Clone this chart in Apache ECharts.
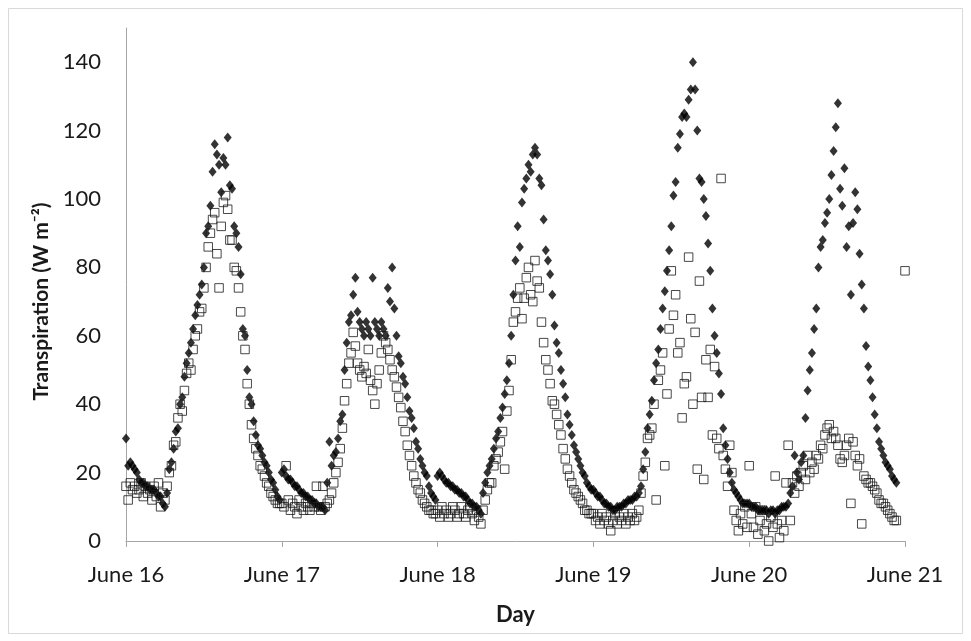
<!DOCTYPE html>
<html>
<head>
<meta charset="utf-8">
<script src="https://cdn.jsdelivr.net/npm/echarts@6/dist/echarts.min.js"></script>
<style>
html,body{margin:0;padding:0;background:#fff;}
#chart{width:971px;height:641px;}
</style>
</head>
<body>
<div id="chart"></div>
<script>
// Day start values (June) and readings every 20 minutes (72 per day)
const dayStarts = [16, 17, 18, 19, 20];
const readingsPerDay = 72;
const dayTicks = [16, 17, 18, 19, 20, 21];
const yTicks = [0, 20, 40, 60, 80, 100, 120, 140];

// Filled diamonds
const dia16 = [30,22,23,22,21,20,18,17,17,16,16,15,15,15,14,13,13,11,10,14,21,23,27,32,33,40,42,48,52,55,58,62,66,69,72,75,80,90,92,98,108,116,113,110,102,112,110,118,104,103,92,90,86,78,62,60,50,42,40,35,31,28,27,25,23,22,20,18,17,15,13,12];
const dia17 = [20,21,19,18,18,17,16,16,15,14,14,13,13,12,12,11,11,10,10,10,9,17,29,22,25,26,30,35,37,50,58,64,66,72,77,67,64,62,60,64,62,60,77,64,62,60,64,62,60,74,70,80,68,60,54,52,48,46,42,38,36,33,29,27,24,22,20,19,16,14,13,12];
const dia18 = [19,20,19,18,17,17,16,16,15,15,14,14,13,13,12,11,11,10,10,9,8,14,17,20,22,24,27,30,32,36,39,43,47,52,60,72,82,92,86,99,103,106,110,108,113,115,113,106,104,94,85,82,78,72,63,58,55,50,46,42,37,34,31,28,26,24,22,20,19,17,16,15];
const dia19 = [15,14,13,13,12,11,11,10,10,9,9,10,10,10,11,11,12,12,12,13,13,14,16,21,26,33,37,41,47,52,56,62,68,73,79,85,92,101,105,115,119,124,125,124,129,132,140,132,120,106,105,100,95,87,79,68,60,55,49,43,33,28,24,20,17,15,14,13,12,11,11,11];
const dia20 = [11,10,10,10,9,9,9,9,9,8,9,9,8,9,9,10,10,10,11,14,16,25,20,18,23,25,36,44,50,55,62,68,80,86,88,93,96,100,107,114,121,128,103,98,109,86,92,72,93,102,97,84,75,68,57,51,47,42,37,33,29,27,25,23,22,21,19,18,17];

// Open squares
const sq16 = [16,12,17,15,16,14,15,17,13,16,14,15,12,16,13,17,10,14,12,16,20,22,28,29,36,40,38,44,49,52,50,56,60,62,67,68,74,80,86,90,94,96,84,74,92,99,101,97,88,88,80,79,74,67,60,56,46,40,34,30,27,25,22,21,19,17,16,14,13,12,11,11];
const sq17 = [11,10,22,12,9,11,10,8,12,10,9,11,10,9,11,10,16,10,9,16,10,11,12,14,17,20,23,27,33,41,46,52,55,61,57,52,50,48,51,49,56,47,44,40,46,50,55,60,58,56,53,50,48,45,42,39,35,32,28,25,22,19,17,15,14,12,11,10,9,9,8,8];
const sq18 = [9,7,10,8,9,7,8,10,9,7,8,10,8,7,9,10,8,6,9,7,5,9,12,15,17,17,22,24,26,29,32,21,38,44,53,64,67,71,74,65,71,77,80,72,70,82,76,74,64,58,53,50,46,41,40,37,34,31,27,24,21,19,17,15,14,13,12,11,9,9,8,8];
const sq19 = [8,6,7,5,8,6,7,5,3,6,8,5,7,6,8,5,7,6,8,6,7,9,14,19,23,30,31,33,40,12,47,50,55,22,43,62,79,66,72,55,58,36,46,48,83,65,40,61,21,76,42,18,53,42,56,31,51,30,27,106,25,21,16,28,20,9,6,3,8,5,10,4];
const sq20 = [22,8,4,10,2,6,9,3,5,0,7,4,19,5,1,6,3,17,28,6,17,14,19,16,20,22,18,25,20,23,21,25,24,28,27,31,33,34,30,32,30,28,24,23,25,28,30,11,29,25,22,24,5,19,18,17,17,16,15,14,12,11,11,10,9,8,7,6,6];
const sq21 = [79];

function toPoints(days, arrays) {
  const pts = [];
  arrays.forEach((arr, k) => {
    arr.forEach((v, i) => pts.push([days[k] + i / readingsPerDay, v]));
  });
  return pts;
}

const diamondData = toPoints(dayStarts, [dia16, dia17, dia18, dia19, dia20]);
const squareData = toPoints(dayStarts.concat([21]), [sq16, sq17, sq18, sq19, sq20, sq21]);

const FONT = 'Lato, "Open Sans", sans-serif';
const chart = echarts.init(document.getElementById('chart'), null, {renderer: 'canvas'});
chart.setOption({
  animation: false,
  backgroundColor: '#ffffff',
  graphic: [{
    type: 'rect',
    shape: {x: 8.5, y: 8.5, width: 954, height: 625},
    style: {fill: 'none', stroke: '#d9d9d9', lineWidth: 1},
    silent: true
  }],
  grid: {left: 126, right: 66, top: 28, bottom: 100, containLabel: false},
  xAxis: {
    type: 'value',
    min: dayTicks[0],
    max: dayTicks[dayTicks.length - 1],
    interval: 1,
    name: 'Day',
    nameLocation: 'middle',
    nameGap: 63,
    nameTextStyle: {fontFamily: FONT, fontSize: 22, fontWeight: 'bold', color: '#1a1a1a'},
    axisLine: {show: true, lineStyle: {color: '#a6a6a6', width: 1}},
    axisTick: {show: true, length: 6, lineStyle: {color: '#a6a6a6'}},
    splitLine: {show: false},
    axisLabel: {
      fontFamily: FONT, fontSize: 22, color: '#1a1a1a', margin: 23,
      formatter: v => 'June ' + v
    }
  },
  yAxis: {
    type: 'value',
    min: 0,
    max: 150,
    interval: 20,
    name: 'Transpiration (W m\u207B\u00B2)',
    nameLocation: 'middle',
    nameGap: 72,
    nameTextStyle: {fontFamily: FONT, fontSize: 21, fontWeight: 'bold', color: '#1a1a1a', padding: [0, 34, 0, 0]},
    axisLine: {show: true, lineStyle: {color: '#a6a6a6', width: 1}},
    axisTick: {show: false},
    splitLine: {show: false},
    axisLabel: {
      fontFamily: FONT, fontSize: 22, color: '#1a1a1a', margin: 25,
      showMaxLabel: false,
      formatter: v => (yTicks.indexOf(v) >= 0 ? String(v) : '')
    }
  },
  series: [
    {
      type: 'scatter',
      data: diamondData,
      symbol: 'diamond',
      symbolSize: [8, 10],
      itemStyle: {color: '#000000'},
      z: 2
    },
    {
      type: 'scatter',
      data: squareData,
      symbol: 'rect',
      symbolSize: 8.5,
      itemStyle: {color: 'rgba(255,255,255,0)', borderColor: '#1a1a1a', borderWidth: 1},
      z: 3
    }
  ]
});
</script>
</body>
</html>
